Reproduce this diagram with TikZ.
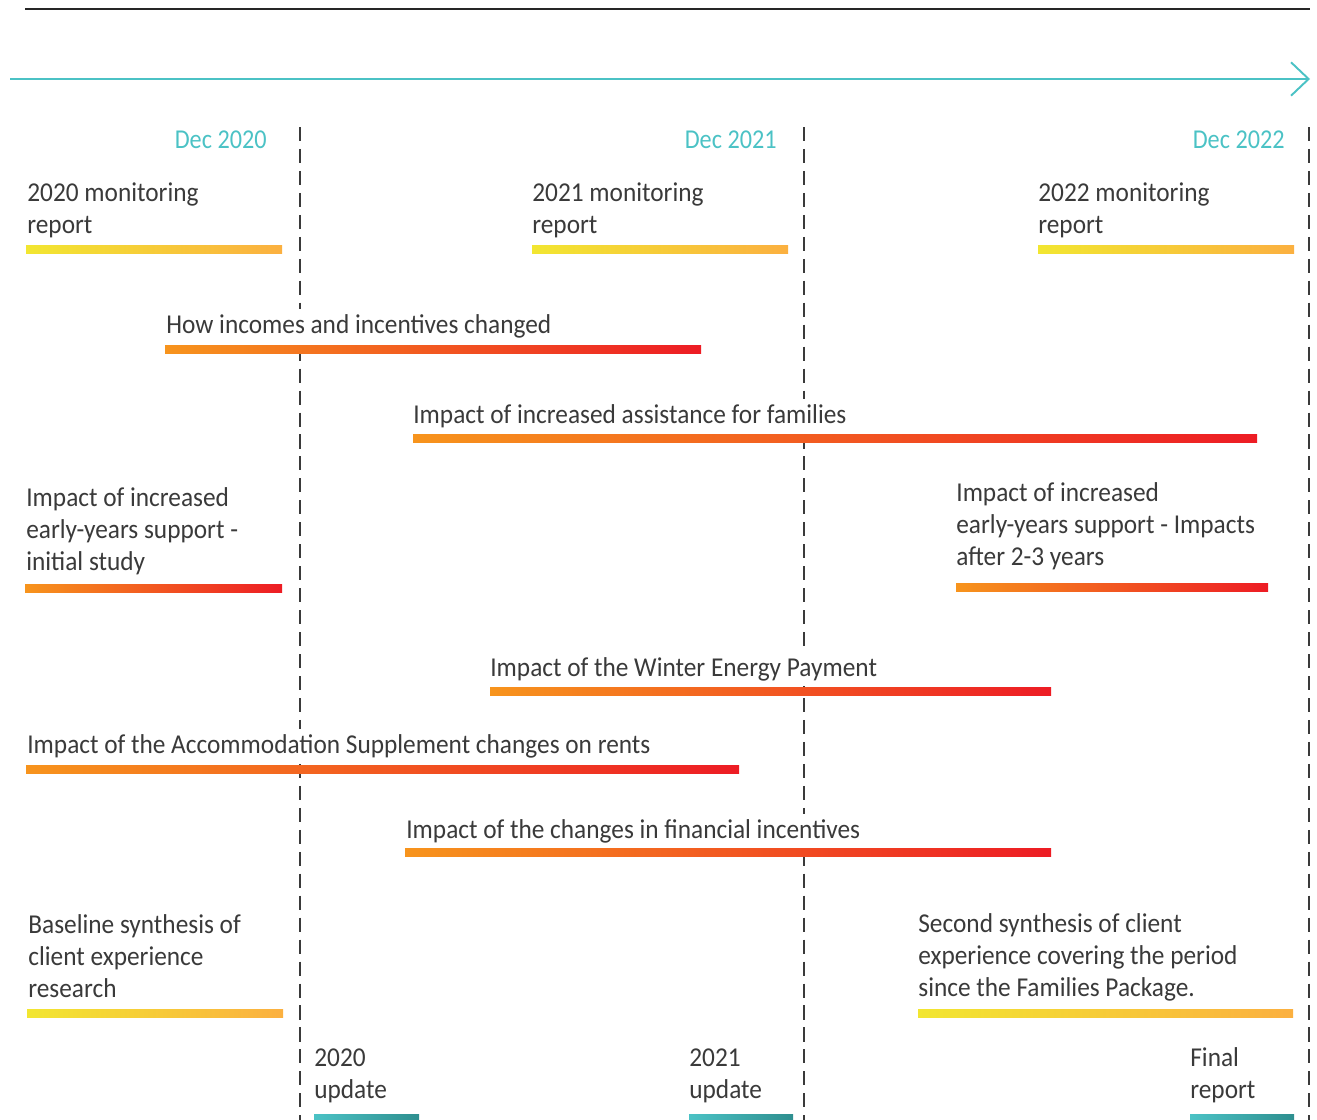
\documentclass[tikz,border=0pt]{standalone}
\usepackage{fontspec}
\setmainfont{Carlito}[FakeStretch=0.93]
\newfontfamily\datefont{Carlito}[FakeStretch=0.89]
\usetikzlibrary{arrows.meta}

\definecolor{tealA}{HTML}{4BC2C5}
\definecolor{tealB}{HTML}{2E8F8F}
\definecolor{yelA}{HTML}{F2E631}
\definecolor{orgA}{HTML}{FBB040}
\definecolor{orgB}{HTML}{F7941D}
\definecolor{redB}{HTML}{ED1C24}
\definecolor{txt}{HTML}{3A3A3A}

\tikzset{
  lbl/.style={anchor=base west, align=left, text=txt, fill=white,
    inner xsep=0pt, inner ysep=3pt,
    font=\fontsize{15.5pt}{18.1pt}\selectfont},
  datelbl/.style={anchor=base east, text=tealA, inner sep=0pt,
    font=\datefont\fontsize{15.5pt}{18.1pt}\selectfont},
  yobar/.style={left color=yelA, right color=orgA},
  orbar/.style={left color=orgB, right color=redB},
  tlbar/.style={left color=tealA, right color=tealB},
  yearline/.style={draw=txt, line width=1.1pt, dash pattern=on 8pt off 4.5pt}
}

\begin{document}
\begin{tikzpicture}[x=0.02cm, y=-0.02cm]
	\useasboundingbox (0,0) rectangle (1317,1119);
	
	% top rule and time axis
	\draw[line width=1.7pt, black!85] (25,9) -- (1310,9);
	\coordinate (tstart) at (10,79);
	\coordinate (tend) at (1310,79);
	\draw[line width=1.1pt, tealA, -{Straight Barb[length=10pt, width=19pt, line width=1.1pt]}] (tstart) -- (tend);
	
	% year ends
	\draw[yearline] (300,127) -- (300,1125);
	\draw[yearline] (804,127) -- (804,1125);
	\draw[yearline] (1309,127) -- (1309,1125);
	
	\node[datelbl] (dec20) at (267,148) {Dec 2020};
	\node[datelbl] (dec21) at (777,148) {Dec 2021};
	\node[datelbl] (dec22) at (1285,148) {Dec 2022};
	
	% labels (placed by their last line)
	\node[lbl] (mon20) at (27,233) {2020 monitoring\\report};
	\node[lbl] (mon21) at (532,233) {2021 monitoring\\report};
	\node[lbl] (mon22) at (1038,233) {2022 monitoring\\report};
	\node[lbl] (incomes) at (166,333) {How incomes and incentives changed};
	\node[lbl] (assist) at (413,423) {Impact of increased assistance for families};
	\node[lbl] (eyfirst) at (26,570) {Impact of increased\\early-years support -\\initial study};
	\node[lbl] (eylater) at (956,565) {Impact of increased\\early-years support - Impacts\\after 2-3 years};
	\node[lbl] (winter) at (490,676) {Impact of the Winter Energy Payment};
	\node[lbl] (accom) at (27,753) {Impact of the Accommodation Supplement changes on rents};
	\node[lbl] (incent) at (406,838) {Impact of the changes in financial incentives};
	\node[lbl] (synth1) at (28,997) {Baseline synthesis of\\client experience\\research};
	\node[lbl] (synth2) at (918,996) {Second synthesis of client\\experience covering the period\\since the Families Package.};
	\node[lbl] (upd20) at (314,1098) {2020\\update};
	\node[lbl] (upd21) at (689,1098) {2021\\update};
	\node[lbl] (final) at (1190,1098) {Final\\report};
	
	% bars
	\shade[yobar] (26,245) rectangle (282,253);
	\shade[yobar] (532,245) rectangle (788,253);
	\shade[yobar] (1038,245) rectangle (1294,253);
	\shade[orbar] (165,345) rectangle (701,353);
	\shade[orbar] (413,434) rectangle (1257,442);
	\shade[orbar] (25,584) rectangle (282,592);
	\shade[orbar] (956,583) rectangle (1268,591);
	\shade[orbar] (490,687) rectangle (1051,695);
	\shade[orbar] (26,765) rectangle (739,773);
	\shade[orbar] (405,848) rectangle (1051,856);
	\shade[yobar] (27,1009) rectangle (283,1017);
	\shade[yobar] (918,1009) rectangle (1293,1017);
	\shade[tlbar] (314,1114) rectangle (419,1122);
	\shade[tlbar] (689,1114) rectangle (793,1122);
	\shade[tlbar] (1190,1114) rectangle (1294,1122);
	
\end{tikzpicture}
\end{document}
